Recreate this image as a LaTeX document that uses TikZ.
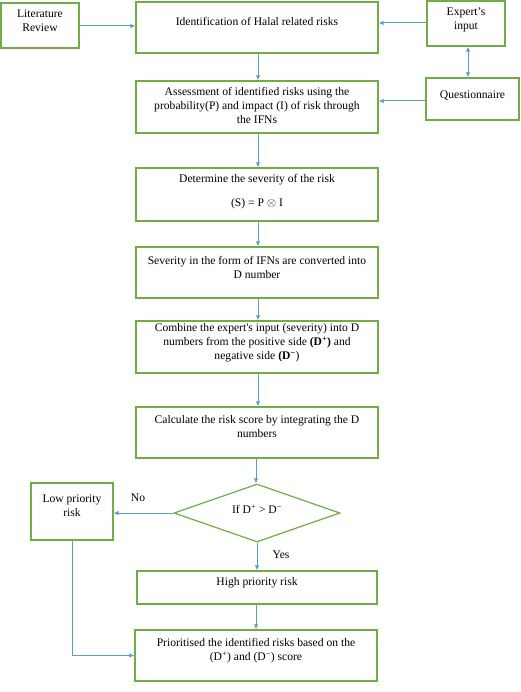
\documentclass[tikz,border=0pt]{standalone}
\usepackage{fontspec}
\setmainfont{Liberation Serif}
\usetikzlibrary{arrows.meta,shapes.geometric}
\definecolor{boxgreen}{HTML}{70AD47}
\definecolor{arrblue}{HTML}{5B9BD5}
\newcommand\tb[2]{\raisebox{#1}[\height][\depth]{\begin{tabular}{@{}c@{}}#2\end{tabular}}}
\tikzset{
  box/.style={draw=boxgreen, line width=1.2pt, rectangle, inner sep=0pt},
  decbox/.style={draw=boxgreen, line width=1.2pt, diamond, inner sep=0pt, aspect=2.86},
  arr/.style={draw=arrblue, line width=1pt, -{Latex[length=5pt,width=4.5pt]}},
  darr/.style={draw=arrblue, line width=1pt, {Latex[length=5pt,width=4.5pt]}-{Latex[length=5pt,width=4.5pt]}},
  lbl/.style={inner sep=0pt}
}
\begin{document}
\begin{tikzpicture}[x=1pt,y=-1pt,font=\fontsize{11.6}{14}\selectfont]
\useasboundingbox (0,0) rectangle (520,692);
\node[box, minimum width=78pt, minimum height=45pt] (lit) at (40,25.5) {\tb{3.5pt}{Literature\\Review}};
\node[box, minimum width=242pt, minimum height=51pt] (ident) at (257,27.5) {\tb{4.5pt}{Identification of Halal related risks}};
\node[box, minimum width=78pt, minimum height=45pt] (expert) at (466,23.5) {\tb{4pt}{Expert’s\\input}};
\node[box, minimum width=93pt, minimum height=42pt] (quest) at (472.5,99) {\tb{3pt}{Questionnaire}};
\node[box, minimum width=242pt, minimum height=52pt] (assess) at (257,107) {\tb{0pt}{Assessment of identified risks using the\\probability(P) and impact (I) of risk through\\the IFNs}};
\node[box, minimum width=242pt, minimum height=53pt] (determine) at (257,194.5) {\tb{2.5pt}{Determine the severity of the risk\\[10pt](S) = P $\otimes$ I}};
\node[box, minimum width=242pt, minimum height=51pt] (severity) at (257,272.5) {\tb{4pt}{Severity in the form of IFNs are converted into\\D number}};
\node[box, minimum width=242pt, minimum height=52pt] (combine) at (257,347) {\tb{4pt}{Combine the expert\textquotesingle s input (severity) into D\\numbers from the positive side \textbf{(D\textsuperscript{+})} and\\negative side \textbf{(D\textsuperscript{−}})}};
\node[box, minimum width=242pt, minimum height=51pt] (calc) at (257,432.5) {\tb{4.5pt}{Calculate the risk score by integrating the D\\numbers}};
\node[decbox, minimum width=166pt, minimum height=58pt] (dec) at (257,513) {\tb{2pt}{If D\textsuperscript{+} > D\textsuperscript{−}}};
\node[box, minimum width=82pt, minimum height=57pt] (low) at (72,511.5) {\tb{4.5pt}{Low priority\\risk}};
\node[box, minimum width=240pt, minimum height=33pt] (high) at (257,587.5) {\tb{4.5pt}{High priority risk}};
\node[box, minimum width=242pt, minimum height=51pt] (prior) at (256,655.5) {\tb{4.5pt}{Prioritised the identified risks based on the\\(D\textsuperscript{+}) and (D\textsuperscript{−}) score}};
\coordinate (ltop) at (72,656);
\node[lbl] (no) at (138,498) {No};
\node[lbl] (yes) at (281,555) {Yes};
\draw[arr] (lit.east |- 0,26) -- (ident.west |- 0,26);
\draw[arr] (expert.west |- 0,23) -- (ident.east |- 0,23);
\draw[darr] (468,0 |- expert.south) -- (468,0 |- quest.north);
\draw[arr] (quest.west |- 0,101) -- (assess.east |- 0,101);
\draw[arr] (ident.south -| 258,0) -- (assess.north -| 258,0);
\draw[arr] (assess.south -| 258,0) -- (determine.north -| 258,0);
\draw[arr] (determine.south -| 258,0) -- (severity.north -| 258,0);
\draw[arr] (severity.south -| 258,0) -- (combine.north -| 258,0);
\draw[arr] (combine.south -| 258,0) -- (calc.north -| 258,0);
\draw[arr] (calc.south -| 256,0) -- (dec.north -| 256,0);
\draw[arr] (dec.south) -- (high.north -| dec.south);
\draw[arr] (high.south -| 256,0) -- (prior.north -| 256,0);
\draw[arr] (dec.west) -- (low.east |- dec.west);
\draw[arr] (low.south) -- (low.south |- prior.west) -- (prior.west);
\end{tikzpicture}
\end{document}
